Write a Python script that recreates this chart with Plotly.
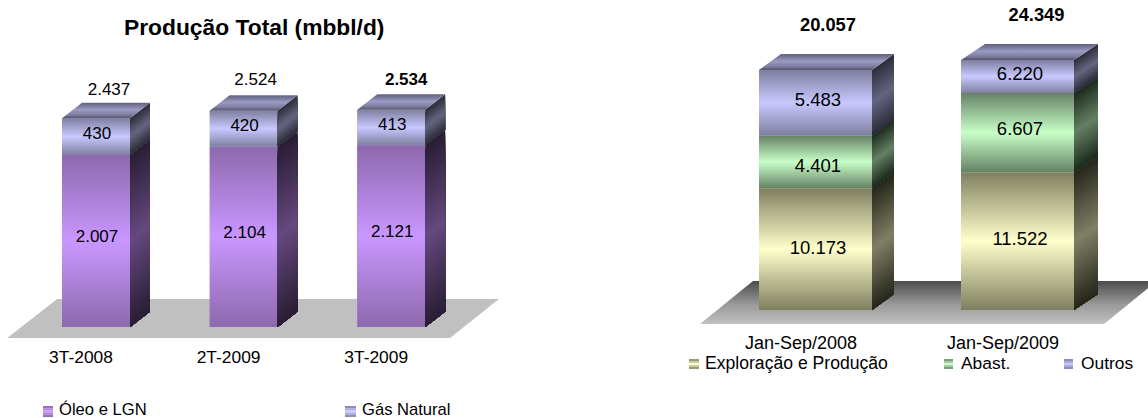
import plotly.graph_objects as go

# Chart data
prod_categories = ["3T-2008", "2T-2009", "3T-2009"]
prod_oil = [2007, 2104, 2121]
prod_gas = [430, 420, 413]
prod_total = [2437, 2524, 2534]

inv_categories = ["Jan-Sep/2008", "Jan-Sep/2009"]
inv_ep = [10173, 11522]
inv_abast = [4401, 6607]
inv_outros = [5483, 6220]
inv_total = [20057, 24349]

# Upper limit of the value axis on the investment chart; taller stacks are cut off here
INV_AXIS_MAX = 20892

WIDTH, HEIGHT = 1148, 418
FONT = "Liberation Sans"

# (front edge, front middle, side edge, side middle)
PURPLE = ("#8d69ad", "#c997ff", "#291d33", "#65497f")
LILAC = ("#7f7fa0", "#c8c8ff", "#2c2c38", "#656582")
GREEN = ("#668266", "#c8ffc8", "#1c2a1c", "#648064")
CREAM = ("#7f7f60", "#ffffcc", "#25251a", "#808066")
TOP_SCALE = [[0, "#54546c"], [0.25, "#8282a6"], [0.55, "#9a9ac4"], [0.8, "#78789a"], [1, "#62627e"]]


def hex_rgb(c):
    return tuple(int(c[i:i + 2], 16) for i in (1, 3, 5))


def mix(a, b, t):
    ra, rb = hex_rgb(a), hex_rgb(b)
    return "#%02x%02x%02x" % tuple(round(x + (y - x) * t) for x, y in zip(ra, rb))


def frac_x(px):
    return px / WIDTH


def frac_y(px):
    return 1 - px / HEIGHT


layout_axes = {}


def axis_pair(n, x_dom, y_dom, x_rng, y_rng, ticks=None, tick_pos=None, tick_size=16):
    xa = dict(domain=x_dom, range=x_rng, anchor=f"y{n}", showgrid=False, zeroline=False,
              showline=False, ticks="", visible=False)
    ya = dict(domain=y_dom, range=y_rng, anchor=f"x{n}", showgrid=False, zeroline=False,
              showline=False, ticks="", visible=False)
    if ticks:
        xa.update(visible=True, tickmode="array", tickvals=list(range(len(ticks))), ticktext=ticks,
                  anchor="free", position=tick_pos, showticklabels=True,
                  tickfont=dict(family=FONT, size=tick_size, color="#000000"))
    layout_axes[f"xaxis{n}"] = xa
    layout_axes[f"yaxis{n}"] = ya


traces = []


def gradient_poly(xs, ys, scale, n):
    traces.append(go.Scatter(x=xs, y=ys, mode="lines", line=dict(width=0), fill="toself",
                             fillgradient=dict(type="vertical", colorscale=scale),
                             xaxis=f"x{n}", yaxis=f"y{n}", hoverinfo="skip", showlegend=False))


def sheared_side(x0, dx, y_top, y_bot, dy, colors, n, height_px):
    # The side gradient follows the receding edge, so it is painted as nested parallelograms
    bands = max(8, int(height_px / 2.5))
    for b in range(bands):
        t = b / bands
        level = y_top + (y_bot - y_top) * t
        edge = 1 - abs((t + 0.5 / bands) * 2 - 1)
        color = mix(colors[2], colors[3], edge)
        traces.append(go.Scatter(x=[x0, x0 + dx, x0 + dx, x0, x0],
                                 y=[level, level + dy, y_bot + dy, y_bot, level],
                                 mode="lines", line=dict(width=0, simplify=False), fill="toself", fillcolor=color,
                                 xaxis=f"x{n}", yaxis=f"y{n}", hoverinfo="skip", showlegend=False))


def fmt(v):
    return f"{v:,}".replace(",", ".")


def stacked_chart(cfg):
    first, slot, base_px, k = cfg["first"], cfg["slot"], cfg["base_px"], cfg["k"]
    x0_px, x1_px = cfg["x_px"]
    x_dom = [frac_x(x0_px), frac_x(x1_px)]
    x_rng = [(x0_px - first) / slot, (x1_px - first) / slot]
    wide_rng = [(base_px - HEIGHT) / k, base_px / k]
    n0 = cfg["n"]
    cats = cfg["categories"]
    centers = list(range(len(cats)))

    # Floor of the 3D scene
    axis_pair(n0, x_dom, [0, 1], x_rng, wide_rng, cats, frac_y(cfg["tick_px"]), cfg["tick_size"])
    f_low = -(cfg["floor_front"] - base_px) / k
    f_high = (base_px - cfg["floor_back"]) / k
    lo, hi = -0.5, len(cats) - 0.5
    fdl, fdr = cfg["floor_dx"][0] / slot, cfg["floor_dx"][1] / slot
    gradient_poly([lo, hi, hi + fdr, lo + fdl, lo], [f_low, f_low, f_high, f_high, f_low], cfg["floor_scale"], n0)

    # Stacked bars on the real value axis
    axis_max = cfg.get("axis_max")
    if axis_max:
        bar_dom = [frac_y(base_px), frac_y(base_px - axis_max * k)]
        bar_rng = [0, axis_max]
    else:
        bar_dom, bar_rng = [0, 1], wide_rng
    axis_pair(n0 + 1, x_dom, bar_dom, x_rng, bar_rng)
    shift, width = cfg["shift"] / slot, cfg["bar_w"] / slot
    for name, values, colors in cfg["series"]:
        traces.append(go.Bar(x=[c + shift for c in centers], y=values, width=width, name=name,
                             marker=dict(color=colors[1], line=dict(width=0)),
                             xaxis=f"x{n0 + 1}", yaxis=f"y{n0 + 1}", showlegend=False))

    # Shaded faces, drawn up to the visible top of each stack
    axis_pair(n0 + 2, x_dom, [0, 1], x_rng, wide_rng)
    limit = axis_max if axis_max else float("inf")
    text_x, text_y, text_s = [], [], []
    for i, c in enumerate(centers):
        xl = c + shift - width / 2
        xr = c + shift + width / 2
        dx = cfg["dx"][i] / slot
        dy = cfg["dy"] / k
        bottom = 0
        for s, (name, values, colors) in enumerate(cfg["series"]):
            top = bottom + values[i]
            vis_bot, vis_top = min(bottom, limit), min(top, limit)
            scale = [[0, colors[0]], [0.5, colors[1]], [1, colors[0]]]
            gradient_poly([xl, xr, xr, xl, xl], [vis_bot, vis_bot, vis_top, vis_top, vis_bot], scale, n0 + 2)
            sheared_side(xr, dx, vis_top, vis_bot, dy, colors, n0 + 2, (vis_top - vis_bot) * k)
            text_x.append(c + shift + cfg["nudge_x"] / slot)
            text_y.append((vis_bot + vis_top) / 2 + cfg["nudge_y"][s][i] / k)
            text_s.append(fmt(values[i]))
            bottom = top
        vis = min(bottom, limit)
        gradient_poly([xl, xr, xr + dx, xl + dx, xl], [vis, vis, vis + dy, vis + dy, vis], TOP_SCALE, n0 + 2)
    traces.append(go.Scatter(x=text_x, y=text_y, text=text_s, mode="text", textposition="middle center",
                             textfont=dict(family=FONT, size=cfg["label_size"], color="#000000"),
                             xaxis=f"x{n0 + 2}", yaxis=f"y{n0 + 2}", hoverinfo="skip", showlegend=False))

    # Stack totals above the bars
    totals = cfg["totals"]
    for i, c in enumerate(centers):
        vis = min(totals[i], limit)
        bold = cfg["bold_total"][i]
        traces.append(go.Scatter(x=[c + shift + cfg["total_dx"][i] / slot],
                                 y=[vis + cfg["total_gap"][i] / k],
                                 text=[f"<b>{fmt(totals[i])}</b>" if bold else fmt(totals[i])],
                                 mode="text", textposition="middle center",
                                 textfont=dict(family=FONT, size=cfg["total_size"], color="#000000"),
                                 xaxis=f"x{n0 + 2}", yaxis=f"y{n0 + 2}", hoverinfo="skip", showlegend=False))


stacked_chart(dict(
    n=1, categories=prod_categories, x_px=(0, 574), first=81, slot=147.6, base_px=327, k=0.0857,
    shift=15, bar_w=68, dx=[20, 20, 20], dy=15.5, tick_px=345, tick_size=17.4,
    label_size=17, total_size=17,
    floor_front=338, floor_back=299, floor_dx=(50, 49),
    floor_scale=[[0, "#c0c0c0"], [1, "#c0c0c0"]],
    series=[("Óleo e LGN", prod_oil, PURPLE), ("Gás Natural", prod_gas, LILAC)],
    totals=prod_total, bold_total=[False, False, True],
    nudge_x=1, nudge_y=[[3, 3, 3], [1.5, 2, 1.5]],
    total_dx=[13, 12, 15], total_gap=[27, 30, 29],
))

stacked_chart(dict(
    n=4, categories=inv_categories, x_px=(574, 1148), first=801, slot=202, base_px=310, k=0.011966,
    shift=14.5, bar_w=113, dx=[22, 24], dy=16, tick_px=330, tick_size=18,
    label_size=18.5, total_size=18.3, axis_max=INV_AXIS_MAX,
    floor_front=324, floor_back=281, floor_dx=(53, 53),
    floor_scale=[[0, "#c0c0c0"], [0.45, "#9a9a9a"], [1, "#4c4c4c"]],
    series=[("Exploração e Produção", inv_ep, CREAM), ("Abast.", inv_abast, GREEN), ("Outros", inv_outros, LILAC)],
    totals=inv_total, bold_total=[True, True],
    nudge_x=2.5, nudge_y=[[0, 1], [-5, 2], [1, 1]],
    total_dx=[12.5, 19], total_gap=[44, 44],
))

shapes = []
annotations = []


def note(text, px, py, size=16, anchor="left"):
    annotations.append(dict(text=text, x=frac_x(px), y=frac_y(py), xref="paper", yref="paper", showarrow=False,
                            xanchor=anchor, yanchor="middle", borderpad=0,
                            font=dict(family=FONT, size=size, color="#000000")))


def swatch(x0, x1, y0, y1, colors):
    bands = 5
    for b in range(bands):
        t = 1 - abs((b + 0.5) / bands * 2 - 1)
        shapes.append(dict(type="rect", xref="paper", yref="paper", line=dict(width=0),
                           x0=frac_x(x0), x1=frac_x(x1),
                           y0=frac_y(y0 + (y1 - y0) * b / bands), y1=frac_y(y0 + (y1 - y0) * (b + 1) / bands),
                           fillcolor=mix(colors[0], colors[1], t)))


note("<b>Produção Total (mbbl/d)</b>", 253.5, 27, size=22.8, anchor="center")

swatch(43, 53, 406, 417, PURPLE)
note("Óleo e LGN", 58, 409.5, size=16.6)
swatch(345, 356, 406, 417, LILAC)
note("Gás Natural", 361, 409.5, size=16.6)

swatch(689, 699, 359, 369, CREAM)
note("Exploração e Produção", 704, 363, size=17.6)
swatch(944, 953, 359, 369, GREEN)
note("Abast.", 960, 363, size=17.4)
swatch(1064, 1073, 359, 369, LILAC)
note("Outros", 1080, 363, size=17.4)

fig = go.Figure(data=traces)
fig.update_layout(
    width=WIDTH, height=HEIGHT, autosize=False,
    margin=dict(l=0, r=0, t=0, b=0),
    paper_bgcolor="#ffffff", plot_bgcolor="rgba(0,0,0,0)",
    barmode="stack", showlegend=False,
    shapes=shapes, annotations=annotations,
    **{k.replace("axis1", "axis"): v for k, v in layout_axes.items()},
)
fig.write_html("out.html", config=dict(displayModeBar=False))
